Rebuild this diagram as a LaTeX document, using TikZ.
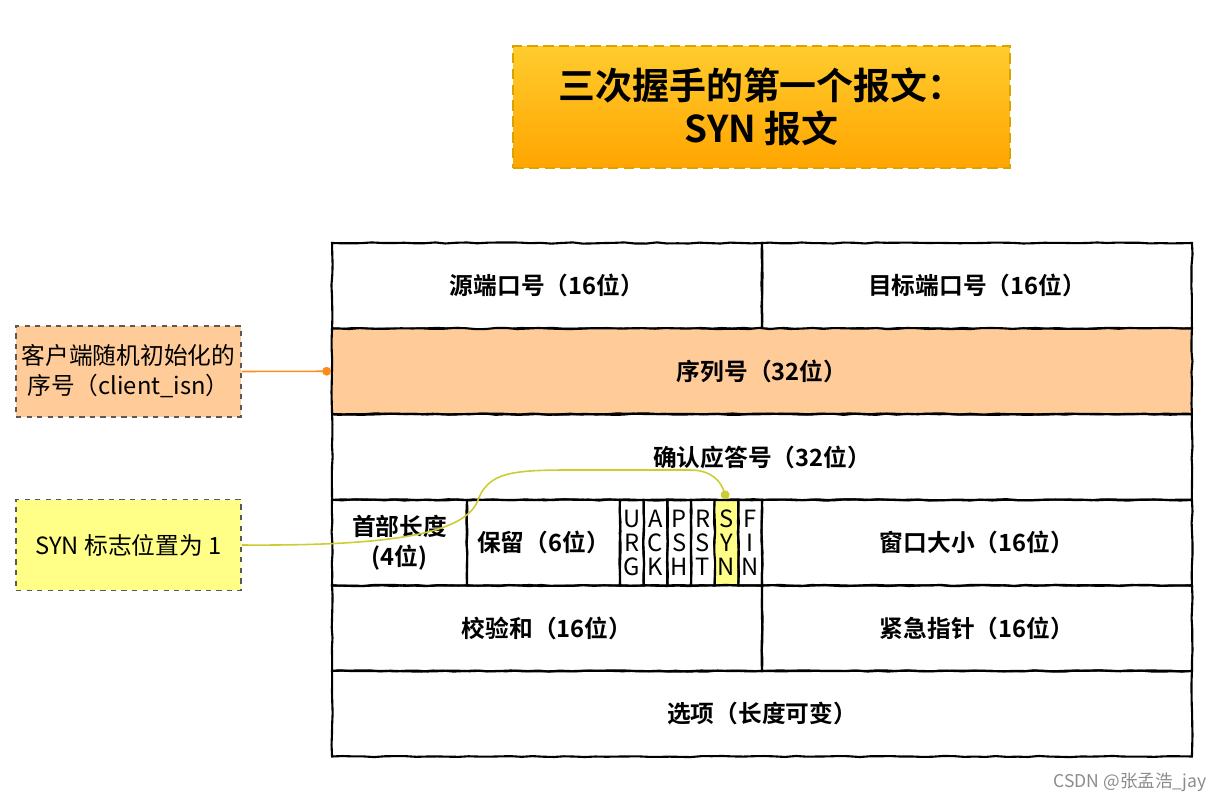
\documentclass[tikz,border=0pt]{standalone}
\usepackage{fontspec}
\setmainfont{Noto Sans CJK SC}[BoldFont={* Bold}]
\usetikzlibrary{arrows.meta,decorations.pathmorphing}
\definecolor{titletop}{HTML}{FFCC2E}
\definecolor{titlebot}{HTML}{FFA500}
\definecolor{titleedge}{HTML}{D9A300}
\definecolor{seqfill}{HTML}{FFCC99}
\definecolor{synfill}{HTML}{FFFF88}
\definecolor{synline}{HTML}{CCCC33}
\definecolor{isnline}{HTML}{FF8C1A}

\begin{document}
\begin{tikzpicture}[x=0.02cm, y=-0.02cm,
    cell/.style={draw, line width=1.2pt, minimum height=1.71cm, inner sep=0pt,
                 font=\bfseries\fontsize{13.5}{17}\selectfont, align=center,
                 decorate, decoration={random steps, segment length=6pt, amplitude=0.35pt}},
    halfcell/.style={cell, minimum width=8.6cm},
    fullcell/.style={cell, minimum width=17.2cm},
    flagcell/.style={cell, minimum width=0.473cm,
                     font=\fontsize{13.5}{13.8}\selectfont},
    notebox/.style={draw=black!65, dashed, line width=0.6pt,
                    minimum width=4.5cm, minimum height=1.82cm, inner sep=1pt,
                    align=center, font=\fontsize{13.5}{17}\selectfont},
    titlebox/.style={draw=titleedge, line width=1.4pt, dash pattern=on 6pt off 3pt,
                     top color=titletop, bottom color=titlebot,
                     minimum width=9.94cm, minimum height=2.44cm, align=center,
                     font=\bfseries\fontsize{21}{24.5}\selectfont},
    notearrow/.style={line width=0.9pt, -{Circle[length=5pt]}}
]
\useasboundingbox (0,0) rectangle (1232,804);

\node[titlebox] (title) at (761.5,107) {三次握手的第一个报文：\\SYN 报文};

% header rows
\node[halfcell] (src)  at (547,285.75) {源端口号（16位）};
\node[halfcell] (dst)  at (977,285.75) {目标端口号（16位）};
\node[fullcell, fill=seqfill] (seq) at (762,371.25) {序列号（32位）};
\node[fullcell] (ack)  at (762,457) {确认应答号（32位）};
\node[cell, minimum width=2.7cm]  (hlen) at (399.5,542.75) {首部长度\\(4位)};
\node[cell, minimum width=3.06cm] (rsv)  at (543.5,542.75) {保留（6位）};
\node[flagcell] (fU) at (631.8,542.75) {U\\R\\G};
\node[flagcell] (fA) at (655.5,542.75) {A\\C\\K};
\node[flagcell] (fP) at (679.2,542.75) {P\\S\\H};
\node[flagcell] (fR) at (702.8,542.75) {R\\S\\T};
\node[flagcell, fill=synfill] (fS) at (726.5,542.75) {S\\Y\\N};
\node[flagcell] (fF) at (750.2,542.75) {F\\I\\N};
\node[halfcell] (win)  at (977,542.75) {窗口大小（16位）};
\node[halfcell] (chk)  at (547,628.25) {校验和（16位）};
\node[halfcell] (urg)  at (977,628.25) {紧急指针（16位）};
\node[fullcell] (opt)  at (762,713.75) {选项（长度可变）};

% notes
\node[notebox, fill=seqfill] (isn) at (128.5,371.5) {客户端随机初始化的\\序号（client\_isn）};
\node[notebox, fill=synfill] (syn) at (128.5,545) {SYN 标志位置为 1};

\draw[notearrow, isnline] (isn.east) -- (seq.west);
\draw[notearrow, synline] (syn.east)
  .. controls (380,546) and (465,536) .. (478,500)
  .. controls (490,468) and (520,470) .. (600,470) -- (690,470)
  .. controls (712,470) and (721,482) .. (fS.north);

\node[text=black!45, font=\fontsize{10}{12}\selectfont] (mark) at (1130,782) {CSDN @张孟浩\_jay};
\end{tikzpicture}
\end{document}
